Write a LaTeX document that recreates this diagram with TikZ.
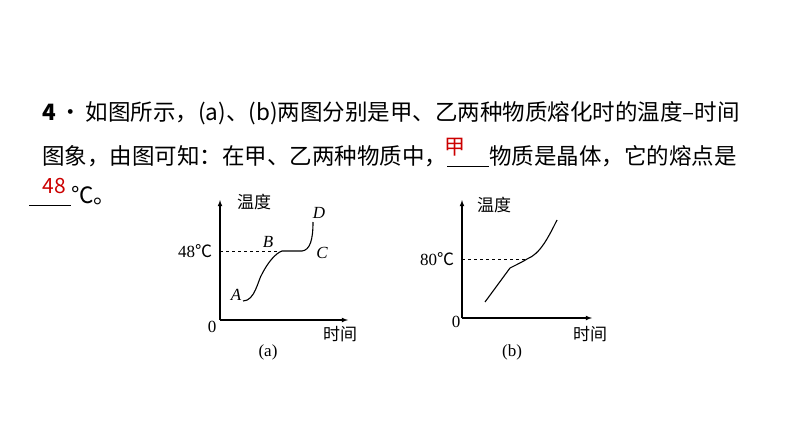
\documentclass[tikz,border=0pt]{standalone}
\usepackage{fontspec}
\setmainfont{Liberation Serif}
\newfontfamily\cjk{Noto Sans CJK SC}
\begin{document}
\begin{tikzpicture}[x=1pt,y=-1pt,
  txt/.style={anchor=west,inner sep=0pt,font=\cjk\fontsize{22.5}{26}\selectfont},
  ans/.style={inner sep=0pt,text=red!80!black,font=\cjk\fontsize{21}{24}\selectfont},
  lab/.style={inner sep=0pt,font=\cjk\fontsize{17}{20}\selectfont},
  ser/.style={inner sep=0pt,font=\fontsize{17}{20}\selectfont},
  it/.style={inner sep=0pt,font=\itshape\fontsize{17}{20}\selectfont},
  ax/.style={line width=1.1pt,-latex},
  crv/.style={line width=1.1pt},
  dsh/.style={dashed,line width=0.9pt}]
\useasboundingbox (0,0) rectangle (794,447);
\fill[white] (0,0) rectangle (794,447);
\node[txt] (l1) at (42,113) {\textbf{4}\,·\,如图所示，(a)、(b)两图分别是甲、乙两种物质熔化时的温度–时间};
\node[txt] (l2) at (42,156) {图象，由图可知：在甲、乙两种物质中，\underline{\hspace{42pt}}物质是晶体，它的熔点是};
\node[txt] (l3) at (29,196) {\underline{\hspace{42pt}}℃。};
\node[ans] (a1) at (455,147) {甲};
\node[ans] (a2) at (54,186) {48};
% graph a
\coordinate (oa) at (220,320);
\draw[ax] (oa) -- (220,200);
\draw[ax] (oa) -- (348,320);
\draw[dsh] (220,251) -- (282,251);
\draw[crv] (243,301) .. controls (255,301) and (258,280) .. (262,274) .. controls (268,262) and (276,253) .. (282,251) -- (302,251) .. controls (310,250) and (313,240) .. (313,222);
\node[lab] (ta) at (254,202) {温度};
\node[lab] (xa) at (340,334) {时间};
\node[ser] (za) at (212,327) {0};
\node[ser] (ya) at (195,251) {48{\cjk ℃}};
\node[it] (A) at (236,295) {A};
\node[it] (B) at (268,242) {B};
\node[it] (C) at (322,253) {C};
\node[it] (D) at (319,213) {D};
\node[ser] (ca) at (268,352) {(a)};
% graph b
\coordinate (ob) at (462,318);
\draw[ax] (ob) -- (462,200);
\draw[ax] (ob) -- (592,318);
\draw[dsh] (462,259) -- (527,259);
\draw[crv] (485,302) -- (510,268) .. controls (518,264) and (524,261) .. (527,259) .. controls (540,254) and (548,238) .. (557,220);
\node[lab] (tb) at (494,205) {温度};
\node[lab] (xb) at (590,334) {时间};
\node[ser] (zb) at (456,322) {0};
\node[ser] (yb) at (437,259) {80{\cjk ℃}};
\node[ser] (cb) at (512,352) {(b)};
\end{tikzpicture}
\end{document}
